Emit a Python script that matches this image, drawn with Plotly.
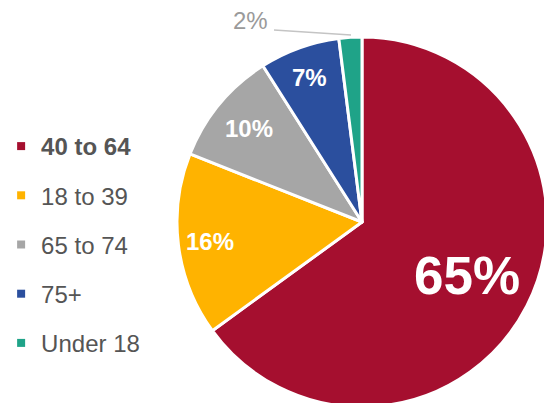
import numpy as np
import plotly.graph_objects as go

# Age-group share of patients
groups = ["40 to 64", "18 to 39", "65 to 74", "75+", "Under 18"]
shares = [65, 16, 10, 7, 2]
colors = ["#A50F2F", "#FFB300", "#A6A6A6", "#2B4F9E", "#1FA388"]

# Canvas is a little larger than the viewport so the pie runs off the edges
W, H = 560, 420
cx, cy, r = 362, 222, 185
FONT = "Liberation Sans, Arial, sans-serif"

fig = go.Figure()

fig.add_trace(go.Pie(
    labels=groups,
    values=shares,
    sort=False,
    direction="clockwise",
    rotation=0,
    marker=dict(colors=colors, line=dict(color="white", width=3)),
    textinfo="none",
    showlegend=False,
    domain=dict(x=[(cx - r) / W, (cx + r) / W],
                y=[1 - (cy + r) / H, 1 - (cy - r) / H]),
    hoverinfo="label+percent",
))

# Percentage labels placed along each slice's mid-angle
total = sum(shares)
ends = np.cumsum(shares) / total * 360.0
mids = ends - np.array(shares) / total * 180.0
radial = [0.64, 0.83, 0.79, 0.83, None]
sizes = [53, 24, 24, 24, None]
for v, a, f, s in zip(shares, mids, radial, sizes):
    if f is None:
        continue
    t = np.deg2rad(a)
    px = cx + f * r * np.sin(t)
    py = cy - f * r * np.cos(t)
    fig.add_annotation(
        text=f"<b>{v}%</b>", xref="paper", yref="paper",
        x=px / W, y=1 - py / H, xanchor="center", yanchor="middle",
        showarrow=False,
        font=dict(family=FONT, size=s, color="white"),
    )

# Small slice labelled outside with a leader line
small = shares[-1]
fig.add_annotation(
    text=f"{small}%", xref="paper", yref="paper",
    x=250 / W, y=1 - 20 / H, xanchor="center", yanchor="middle",
    showarrow=False,
    font=dict(family=FONT, size=24, color="#9A9A9A"),
)
fig.add_shape(
    type="line", xref="paper", yref="paper",
    x0=274 / W, y0=1 - 30 / H, x1=351 / W, y1=1 - 35 / H,
    line=dict(color="#C4C4C4", width=1.5),
)

# Legend entries with small square swatches
for i, (g, c) in enumerate(zip(groups, colors)):
    name = f"<b>{g}</b>" if i == 0 else g
    fig.add_trace(go.Scatter(
        x=[None], y=[None], mode="markers", name=name,
        legendgroup=g,
        marker=dict(symbol="square", size=8, color=c),
    ))

fig.update_layout(
    width=W, height=H,
    margin=dict(l=0, r=0, t=0, b=0),
    paper_bgcolor="white", plot_bgcolor="white",
    xaxis=dict(visible=False), yaxis=dict(visible=False),
    showlegend=True,
    legend=dict(
        x=0.002, y=1 - 124 / H, xanchor="left", yanchor="top",
        font=dict(family=FONT, size=24, color="#555555"),
        tracegroupgap=15, bgcolor="rgba(0,0,0,0)",
        itemclick=False, itemdoubleclick=False,
    ),
)

fig.write_html(
    "out.html",
    config=dict(displayModeBar=False),
    post_script="document.documentElement.style.overflow='hidden';"
                "document.body.style.overflow='hidden';document.body.style.margin='0';",
)
